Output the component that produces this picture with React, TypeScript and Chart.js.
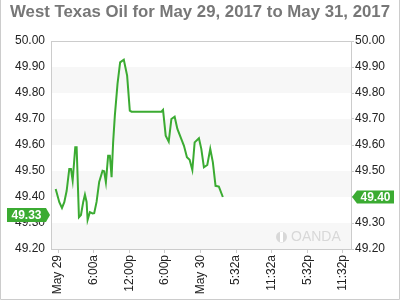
import React, { useEffect, useRef } from "react";
import { Chart, registerables } from "chart.js";

Chart.register(...registerables);

const titleText = "West Texas Oil for May 29, 2017 to May 31, 2017";
const xTickHours = [0, 6, 12, 18, 24, 30, 36, 42, 48];
const xLabels = ["May 29", "6:00a", "12:00p", "6:00p", "May 30", "5:32a", "11:32a", "5:32p", "11:32p"];
const hours = [-0.39, 0.22, 0.67, 1.06, 1.46, 1.9, 2.18, 2.47, 2.91, 3.14, 3.53, 3.87, 4.25, 4.54, 4.82, 4.99, 5.38, 5.83, 6.1, 6.5, 6.94, 7.51, 7.78, 8.07, 8.45, 8.74, 9.03, 9.29, 9.58, 10.03, 10.47, 11.09, 11.65, 12.1, 12.39, 17.43, 17.7, 18.15, 18.66, 19.11, 19.66, 20.12, 20.79, 21.23, 21.73, 22.18, 22.64, 23.03, 23.75, 24.15, 24.59, 25.16, 25.66, 26.1, 26.55, 27.11, 27.78];
const prices = [49.431, 49.38, 49.358, 49.38, 49.424, 49.508, 49.508, 49.463, 49.591, 49.591, 49.322, 49.331, 49.381, 49.409, 49.381, 49.312, 49.342, 49.337, 49.338, 49.381, 49.458, 49.501, 49.499, 49.457, 49.559, 49.559, 49.476, 49.61, 49.713, 49.835, 49.918, 49.928, 49.867, 49.732, 49.728, 49.728, 49.735, 49.636, 49.613, 49.7, 49.709, 49.662, 49.623, 49.597, 49.553, 49.543, 49.504, 49.61, 49.626, 49.585, 49.514, 49.523, 49.585, 49.533, 49.443, 49.44, 49.4];
const bands = [[49.2, 49.3], [49.4, 49.5], [49.6, 49.7], [49.8, 49.9]];
const leftBadgeValue = 49.33;
const rightBadgeValue = prices[prices.length - 1];
const watermarkText = "OANDA";

const GREEN = "#3bab32";
const FONT = "'Liberation Sans', Arial, sans-serif";

export default function App() {
  const ref = useRef<HTMLCanvasElement>(null);
  useEffect(() => {
    if (!ref.current) return;
    const bandPlugin = {
      id: "bands",
      beforeDatasetsDraw(chart: any) {
        const { ctx, chartArea, scales } = chart;
        const y = scales.y;
        ctx.save();
        ctx.fillStyle = "#f7f7f7";
        bands.forEach(([a, b]) => {
          const y1 = y.getPixelForValue(b);
          const y2 = y.getPixelForValue(a);
          ctx.fillRect(chartArea.left, y1, chartArea.right - chartArea.left, y2 - y1);
        });
        // watermark
        ctx.fillStyle = "#d8d8d8";
        ctx.beginPath();
        ctx.arc(281.5, 237, 5.5, 0, Math.PI * 2);
        ctx.fill();
        ctx.fillStyle = "#fff";
        ctx.fillRect(280, 232, 3, 10);
        ctx.fillStyle = "#d8d8d8";
        ctx.font = `14px ${FONT}`;
        ctx.textAlign = "left";
        ctx.textBaseline = "middle";
        ctx.fillText(watermarkText, 291, 237.5);
        ctx.restore();
      },
      afterDraw(chart: any) {
        const { ctx, chartArea, scales } = chart;
        const y = scales.y;
        ctx.save();
        ctx.strokeStyle = "#cccccc";
        ctx.lineWidth = 1;
        ctx.strokeRect(chartArea.left + 0.5, chartArea.top + 0.5, chartArea.right - chartArea.left, chartArea.bottom - chartArea.top);
        ctx.beginPath();
        ctx.moveTo(0.5, 0);
        ctx.lineTo(0.5, 299.5);
        ctx.lineTo(399.5, 299.5);
        ctx.lineTo(399.5, 0);
        ctx.stroke();
        ctx.fillStyle = "#777777";
        ctx.font = `bold 16.8px ${FONT}`;
        ctx.textAlign = "center";
        ctx.textBaseline = "middle";
        ctx.fillText(titleText, 200, 12.5);
        const ly = Math.round(y.getPixelForValue(leftBadgeValue));
        const lx = chartArea.left - 1;
        ctx.fillStyle = GREEN;
        ctx.beginPath();
        ctx.moveTo(7, ly - 7);
        ctx.lineTo(lx - 4, ly - 7);
        ctx.lineTo(lx, ly);
        ctx.lineTo(lx - 4, ly + 7);
        ctx.lineTo(7, ly + 7);
        ctx.closePath();
        ctx.fill();
        ctx.fillStyle = "#fff";
        ctx.font = `bold 12px ${FONT}`;
        ctx.textAlign = "center";
        ctx.fillText(leftBadgeValue.toFixed(2), (7 + lx - 4) / 2, ly + 0.5);
        const ry = Math.round(y.getPixelForValue(rightBadgeValue));
        const rx = chartArea.right + 1;
        ctx.fillStyle = GREEN;
        ctx.beginPath();
        ctx.moveTo(rx, ry);
        ctx.lineTo(rx + 5, ry - 6.5);
        ctx.lineTo(394, ry - 6.5);
        ctx.lineTo(394, ry + 6.5);
        ctx.lineTo(rx + 5, ry + 6.5);
        ctx.closePath();
        ctx.fill();
        ctx.fillStyle = "#fff";
        ctx.fillText(rightBadgeValue.toFixed(2), (rx + 5 + 394) / 2, ry + 0.5);
        ctx.restore();
      },
    };

    const chart = new Chart(ref.current, {
      type: "line",
      data: {
        datasets: [
          {
            data: hours.map((h, i) => ({ x: h, y: prices[i] })),
            borderColor: GREEN,
            borderWidth: 2,
            pointRadius: 0,
            tension: 0,
            fill: false,
          },
        ],
      },
      options: {
        animation: false,
        responsive: false,
        layout: { padding: { top: 41, left: 0, right: 0, bottom: 0 }, autoPadding: false },
        plugins: { legend: { display: false }, tooltip: { enabled: false }, title: { display: false } },
        scales: {
          x: {
            type: "linear",
            min: -1.18,
            max: 49.38,
            afterBuildTicks: (axis: any) => {
              axis.ticks = xTickHours.map((v) => ({ value: v }));
            },
            afterFit: (axis: any) => {
              axis.height = 51;
            },
            ticks: {
              callback: (_v: any, i: number) => xLabels[i],
              minRotation: 90,
              maxRotation: 90,
              autoSkip: false,
              padding: 2,
              color: "#222",
              font: { family: FONT, size: 12 },
            },
            grid: { drawOnChartArea: false, drawTicks: true, tickLength: 4, color: "#cccccc" },
            border: { display: true, color: "#cccccc" },
          },
          y: {
            position: "left",
            min: 49.2,
            max: 50.0,
            afterFit: (axis: any) => {
              axis.width = 51;
            },
            ticks: {
              stepSize: 0.1,
              callback: (v: any) => Number(v).toFixed(2),
              padding: 6,
              color: "#222",
              font: { family: FONT, size: 12 },
            },
            grid: { drawOnChartArea: false, drawTicks: false },
            border: { display: true, color: "#cccccc" },
          },
          y2: {
            position: "right",
            min: 49.2,
            max: 50.0,
            afterFit: (axis: any) => {
              axis.width = 49;
            },
            ticks: {
              stepSize: 0.1,
              callback: (v: any) => Number(v).toFixed(2),
              padding: 1,
              color: "#222",
              font: { family: FONT, size: 12 },
            },
            grid: { drawOnChartArea: false, drawTicks: true, tickLength: 3, color: "#cccccc" },
            border: { display: true, color: "#cccccc" },
          },
        },
      },
      plugins: [bandPlugin],
    });
    return () => chart.destroy();
  }, []);
  return (
    <div style={{ position: "fixed", left: 0, top: 0, width: 400, height: 300, background: "#fff" }}>
      <canvas ref={ref} width={400} height={300} style={{ width: 400, height: 300 }} />
    </div>
  );
}
